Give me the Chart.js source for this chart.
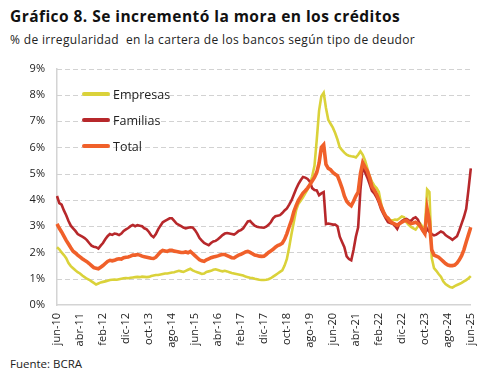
<!DOCTYPE html>
<html>
<head>
<meta charset="utf-8">
<script src="https://cdn.jsdelivr.net/npm/chart.js@4.4.1/dist/chart.umd.min.js"></script>
<style>
    body { margin: 0; background: #fff; font-family: "Open Sans", sans-serif; color: #111; }
    #wrap { position: relative; width: 492px; height: 379px; overflow: hidden; }
    #title { position: absolute; left: 10px; top: 5px; font-size: 15.5px; font-weight: 700; letter-spacing: 0.45px; white-space: nowrap; }
    #subtitle { position: absolute; left: 10px; top: 31px; font-size: 12px; letter-spacing: 0.35px; white-space: pre; color: #222; }
    #source { position: absolute; left: 10px; top: 356px; font-size: 11.5px; color: #222; }
    #chartBox { position: absolute; left: 0; top: 50px; width: 492px; height: 305px; }
    #legend { position: absolute; left: 82px; top: 81px; font-size: 12.5px; color: #222; }
    .leg-row { height: 26px; display: flex; align-items: center; }
    .leg-line { width: 28px; margin-right: 3px; border-radius: 2px; }
</style>
</head>
<body>
<div id="wrap">
    <div id="title">Gráfico 8. Se incrementó la mora en los créditos</div>
    <div id="subtitle">% de irregularidad  en la cartera de los bancos según tipo de deudor</div>
    <div id="chartBox"><canvas id="moraChart"></canvas></div>
    <div id="legend"></div>
    <div id="source">Fuente: BCRA</div>
</div>
<script>
// Meses jun-10 a jun-25
const meses = ['ene', 'feb', 'mar', 'abr', 'may', 'jun', 'jul', 'ago', 'sep', 'oct', 'nov', 'dic'];
const labels = [];
for (let y = 2010; y <= 2025; y++) {
    meses.forEach((m, i) => {
        if ((y === 2010 && i < 5) || (y === 2025 && i > 5)) return;
        labels.push(m + '-' + String(y).slice(2));
    });
}

const yTicks = [0, 1, 2, 3, 4, 5, 6, 7, 8, 9];

const empresas = [
    2.2, 2.12, 2.0, 1.9, 1.78, 1.6, 1.48, 1.4, 1.32, 1.25,
    1.2, 1.12, 1.06, 1.0, 0.96, 0.9, 0.84, 0.78, 0.82, 0.86,
    0.88, 0.9, 0.92, 0.95, 0.96, 0.97, 0.96, 0.98, 1.0, 1.02,
    1.03, 1.02, 1.04, 1.05, 1.06, 1.07, 1.06, 1.08, 1.07, 1.06,
    1.07, 1.1, 1.12, 1.14, 1.14, 1.16, 1.18, 1.2, 1.2, 1.22,
    1.24, 1.25, 1.28, 1.3, 1.28, 1.26, 1.3, 1.34, 1.38, 1.32,
    1.28, 1.25, 1.22, 1.18, 1.2, 1.26, 1.28, 1.3, 1.34, 1.36,
    1.33, 1.3, 1.28, 1.3, 1.28, 1.25, 1.22, 1.2, 1.18, 1.16,
    1.14, 1.12, 1.08, 1.06, 1.04, 1.03, 1.0, 0.98, 0.96, 0.95,
    0.95, 0.96, 0.98, 1.02, 1.08, 1.14, 1.2, 1.26, 1.32, 1.5,
    1.75, 2.2, 2.7, 3.15, 3.6, 3.85, 3.97, 4.1, 4.25, 4.4,
    4.6, 4.9, 5.3, 6.3, 7.4, 7.95, 8.08, 7.5, 7.05, 6.9,
    6.75, 6.55, 6.3, 6.0, 5.9, 5.8, 5.72, 5.68, 5.66, 5.65,
    5.62, 5.72, 5.85, 5.72, 5.5, 5.2, 4.9, 4.7, 4.55, 4.45,
    4.3, 3.85, 3.55, 3.38, 3.3, 3.22, 3.22, 3.25, 3.24, 3.3,
    3.37, 3.34, 3.15, 3.05, 2.97, 2.92, 2.87, 3.0, 3.1, 2.98,
    2.85, 4.4, 4.3, 1.8, 1.4, 1.3, 1.18, 1.08, 0.9, 0.8,
    0.74, 0.68, 0.66, 0.72, 0.76, 0.8, 0.84, 0.9, 0.95, 1.02,
    1.1
];

const familias = [
    4.15, 3.88, 3.82, 3.6, 3.42, 3.2, 3.02, 2.92, 2.82, 2.7,
    2.65, 2.6, 2.55, 2.47, 2.36, 2.26, 2.22, 2.2, 2.15, 2.26,
    2.36, 2.5, 2.62, 2.7, 2.67, 2.72, 2.7, 2.66, 2.72, 2.82,
    2.88, 2.93, 3.0, 3.05, 3.0, 3.04, 3.02, 3.0, 2.92, 2.88,
    2.78, 2.65, 2.58, 2.7, 2.88, 3.02, 3.15, 3.2, 3.25, 3.3,
    3.3, 3.2, 3.1, 3.05, 3.0, 2.95, 2.92, 2.94, 2.96, 2.95,
    2.85, 2.72, 2.55, 2.45, 2.36, 2.32, 2.28, 2.36, 2.42, 2.44,
    2.5, 2.58, 2.66, 2.72, 2.74, 2.72, 2.7, 2.68, 2.74, 2.82,
    2.85, 2.92, 3.05, 3.18, 3.2, 3.1, 3.02, 2.98, 2.96, 2.95,
    2.94, 2.98, 3.05, 3.15, 3.3, 3.38, 3.4, 3.42, 3.5, 3.6,
    3.68, 3.82, 3.98, 4.2, 4.42, 4.6, 4.75, 4.87, 4.85, 4.8,
    4.7, 4.45, 4.38, 4.36, 4.18, 4.25, 4.3, 3.08, 3.1, 3.08,
    3.06, 3.06, 3.0, 2.6, 2.4, 2.2, 1.85, 1.75, 1.7, 2.1,
    2.6, 2.96, 4.4, 5.3, 5.05, 4.85, 4.6, 4.35, 4.25, 4.1,
    3.9, 3.65, 3.47, 3.3, 3.15, 3.12, 3.09, 3.02, 2.9, 3.1,
    3.2, 3.25, 3.28, 3.22, 3.2, 3.3, 3.34, 3.25, 3.03, 2.85,
    2.72, 2.9, 2.78, 2.7, 2.65, 2.68, 2.74, 2.8, 2.76, 2.66,
    2.6, 2.55, 2.48, 2.55, 2.62, 2.84, 3.1, 3.35, 3.66, 4.4,
    5.2
];

const total = [
    3.09, 2.92, 2.78, 2.62, 2.46, 2.32, 2.18, 2.05, 1.98, 1.9,
    1.83, 1.76, 1.7, 1.65, 1.58, 1.5, 1.42, 1.4, 1.38, 1.44,
    1.5, 1.58, 1.66, 1.7, 1.68, 1.7, 1.74, 1.76, 1.75, 1.8,
    1.82, 1.83, 1.86, 1.9, 1.9, 1.92, 1.9, 1.86, 1.84, 1.82,
    1.8, 1.78, 1.77, 1.82, 1.92, 2.02, 2.08, 2.06, 2.04, 2.08,
    2.08, 2.05, 2.04, 2.02, 2.0, 2.0, 2.02, 1.99, 2.04, 1.96,
    1.88, 1.8, 1.72, 1.68, 1.66, 1.72, 1.76, 1.8, 1.83, 1.85,
    1.87, 1.9, 1.92, 1.92, 1.88, 1.84, 1.8, 1.79, 1.85, 1.9,
    1.93, 1.97, 2.02, 2.04, 2.0, 1.95, 1.9, 1.88, 1.86, 1.85,
    1.86, 1.92, 2.0, 2.06, 2.12, 2.2, 2.26, 2.3, 2.35, 2.5,
    2.72, 2.98, 3.22, 3.55, 3.78, 3.98, 4.12, 4.26, 4.35, 4.45,
    4.58, 4.72, 4.86, 5.05, 5.4, 6.0, 6.1, 5.35, 5.2, 5.15,
    5.05, 4.98, 4.92, 4.7, 4.45, 4.15, 3.95, 3.85, 3.78, 3.95,
    4.15, 4.3, 5.0, 5.42, 5.25, 5.1, 4.85, 4.5, 4.38, 4.22,
    4.0, 3.75, 3.55, 3.38, 3.3, 3.18, 3.12, 3.08, 3.03, 3.1,
    3.15, 3.2, 3.22, 3.15, 3.1, 3.12, 3.15, 3.1, 3.0, 2.85,
    2.72, 3.66, 3.2, 2.1, 1.9, 1.86, 1.82, 1.74, 1.66, 1.58,
    1.52, 1.5, 1.5, 1.52, 1.6, 1.72, 1.88, 2.1, 2.4, 2.68,
    2.96
];

const seriesNames = ['Empresas', 'Familias', 'Total'];
const seriesColors = ['#DAD23A', '#B7282B', '#F0602A'];
const seriesWidths = [2.6, 2.6, 3.6];
const seriesOrder = [2, 1, 0];

const tickFont = { family: 'Open Sans', size: 11 };

// dashed horizontal grid lines
const dashedGrid = {
    id: 'dashedGrid',
    beforeDatasetsDraw(chart) {
        const { ctx, chartArea, scales } = chart;
        const y = scales.y;
        ctx.save();
        ctx.strokeStyle = '#d2d2d2';
        ctx.lineWidth = 1;
        ctx.setLineDash([5, 3]);
        y.ticks.forEach(t => {
            if (t.value === 0) return;
            const py = Math.round(y.getPixelForValue(t.value)) + 0.5;
            ctx.beginPath();
            ctx.moveTo(chartArea.left, py);
            ctx.lineTo(chartArea.right, py);
            ctx.stroke();
        });
        ctx.restore();
    }
};

document.addEventListener('DOMContentLoaded', () => {
    buildLegend();
    initChart();
});

function buildLegend() {
    const legend = document.getElementById('legend');
    seriesNames.forEach((name, i) => {
        const row = document.createElement('div');
        row.className = 'leg-row';
        row.innerHTML = `<span class="leg-line" style="background:${seriesColors[i]};height:${seriesWidths[i] + 1}px"></span>${name}`;
        legend.appendChild(row);
    });
}

function initChart() {
    const ctx = document.getElementById('moraChart').getContext('2d');
    const data = [empresas, familias, total];

    new Chart(ctx, {
        type: 'line',
        data: {
            labels: labels,
            datasets: seriesNames.map((name, i) => ({
                label: name,
                data: data[i],
                borderColor: seriesColors[i],
                borderWidth: seriesWidths[i],
                pointRadius: 0,
                tension: 0,
                fill: false,
                order: seriesOrder[i]
            }))
        },
        options: {
            responsive: true,
            maintainAspectRatio: false,
            animation: false,
            layout: { padding: { top: 7, right: 14, bottom: 0, left: 0 } },
            plugins: {
                legend: { display: false },
                tooltip: { enabled: false }
            },
            scales: {
                x: {
                    offset: false,
                    grid: { display: false, drawTicks: false },
                    border: { color: '#d4d4d4', width: 1.5 },
                    ticks: {
                        autoSkip: false,
                        maxRotation: 90,
                        minRotation: 90,
                        padding: 8,
                        color: '#222',
                        font: tickFont,
                        callback: (v, i) => (i % 10 === 0 ? labels[i] : null)
                    },
                    afterFit: scale => { scale.height = 50; }
                },
                y: {
                    min: 0,
                    max: 9,
                    afterBuildTicks: scale => { scale.ticks = yTicks.map(v => ({ value: v })); },
                    grid: { display: false, drawTicks: false },
                    border: { color: '#d4d4d4', width: 1.5 },
                    ticks: {
                        padding: 12,
                        color: '#222',
                        font: tickFont,
                        callback: v => v + '%'
                    },
                    afterFit: scale => { scale.width = 57; }
                }
            }
        },
        plugins: [dashedGrid]
    });
}
</script>
</body>
</html>
